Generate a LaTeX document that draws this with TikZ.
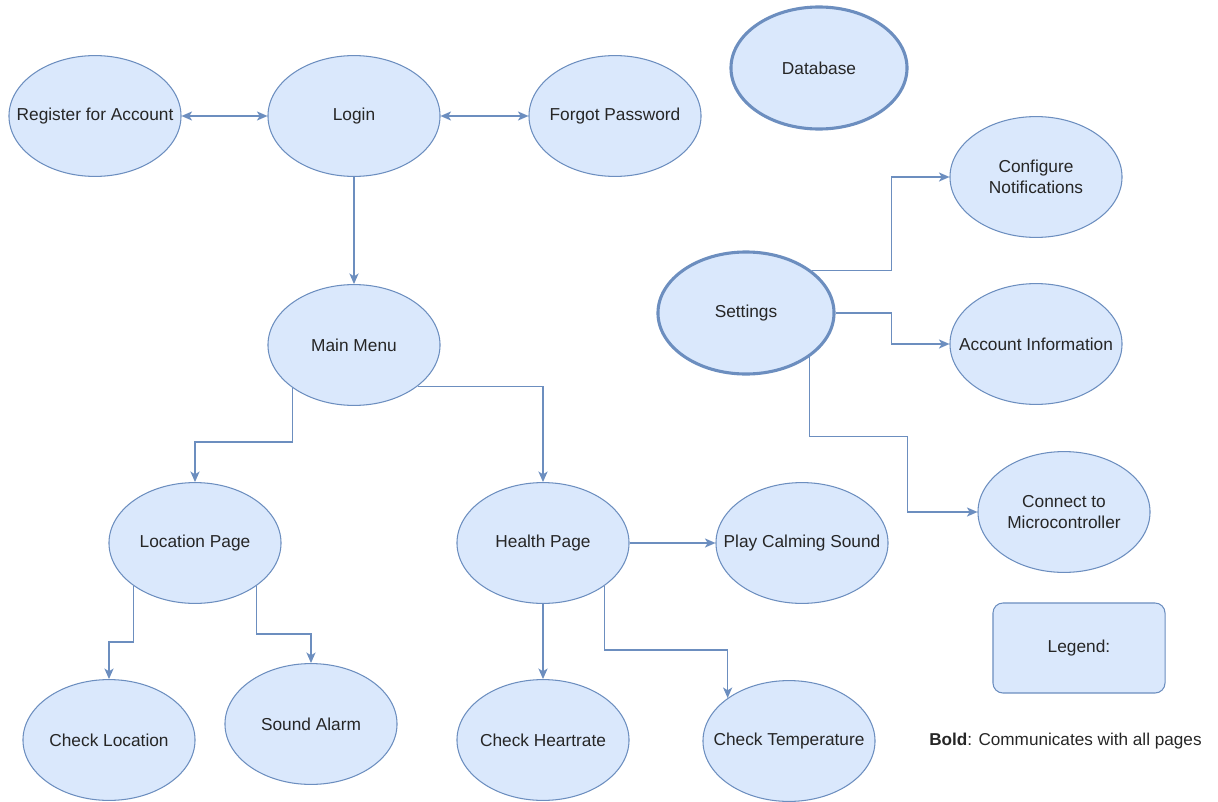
\documentclass[tikz,border=0pt]{standalone}
\usepackage{fontspec}
\setmainfont{Liberation Sans}
\usepackage{tikz}
\usetikzlibrary{shapes.geometric,arrows.meta}
\definecolor{pagefill}{HTML}{DAE8FC}
\definecolor{pageline}{HTML}{6C8EBF}

\begin{document}
\begin{tikzpicture}[x=0.025cm,y=-0.025cm]
			\tikzstyle{page}=[ellipse,draw=pageline,fill=pagefill,line width=0.75pt,inner xsep=-0.9cm,inner ysep=0pt,minimum width=4.3cm,minimum height=3.02cm,align=center,text=black!85,font=\fontsize{12.3}{15}\selectfont]
			\tikzstyle{boldpage}=[page,line width=2.2pt,minimum width=4.4cm,minimum height=3.05cm]
			\tikzstyle{link}=[draw=pageline,line width=1pt,-{Stealth[length=7.5pt,width=6.5pt,inset=2pt]}]
			\tikzstyle{twoway}=[link,{Stealth[length=7.5pt,width=6.5pt,inset=2pt]}-{Stealth[length=7.5pt,width=6.5pt,inset=2pt]}]
			\useasboundingbox (0,0) rectangle (1218,802);
			\node (reg)[page] at (95,116) {Register for Account};
			\node (login)[page] at (354,116) {Login};
			\node (forgot)[page] at (615,116) {Forgot Password};
			\node (db)[boldpage] at (819,68) {Database};
			\node (conf)[page] at (1036,177) {Configure\\Notifications};
			\node (set)[boldpage] at (746,313) {Settings};
			\node (acct)[page] at (1036,344) {Account Information};
			\node (micro)[page] at (1064,512) {Connect to\\Microcontroller};
			\node (menu)[page] at (354,345) {Main Menu};
			\node (loc)[page] at (195,543) {Location Page};
			\node (health)[page] at (543,543) {Health Page};
			\node (calm)[page] at (802,543) {Play Calming Sound};
			\node (chkloc)[page] at (109,740) {Check Location};
			\node (alarm)[page] at (311,724) {Sound Alarm};
			\node (heart)[page] at (543,740) {Check Heartrate};
			\node (temp)[page] at (789,741) {Check Temperature};
			\node (legend)[draw=pageline,fill=pagefill,line width=0.75pt,rounded corners=0.25cm,minimum width=4.3cm,minimum height=2.25cm,text=black!85,font=\fontsize{12.3}{15}\selectfont] at (1079,648) {Legend:};
			\node (note)[anchor=west,inner sep=0pt,text=black!85,font=\fontsize{12.2}{14}\selectfont] at (929,741) {\textbf{Bold}: Communicates with all pages};
			
			\draw[twoway] (reg) -- (login);
			\draw[twoway] (login) -- (forgot);
			\draw[link] (login) -- (menu);
			\draw[link] (menu.215) -- ++(0,54) -| (loc);
			\draw[link] (menu.327) -| (health);
			\draw[link] (loc.215) -- ++(0,56) -| (chkloc);
			\draw[link] (loc.325) -- ++(0,48) -| (alarm);
			\draw[link] (health) -- (calm);
			\draw[link] (health) -- (heart);
			\draw[link] (health.325) -- ++(0,64) -| (temp.145);
			
			\draw[link] (set.33) -- ++(80,0) |- (conf);
			\draw[link] (set.east) -- ++(56,0) |- (acct);
			\draw[link] (set.325) -- ++(0,79) -- ++(98,0) |- (micro);

		\end{tikzpicture}
\end{document}
